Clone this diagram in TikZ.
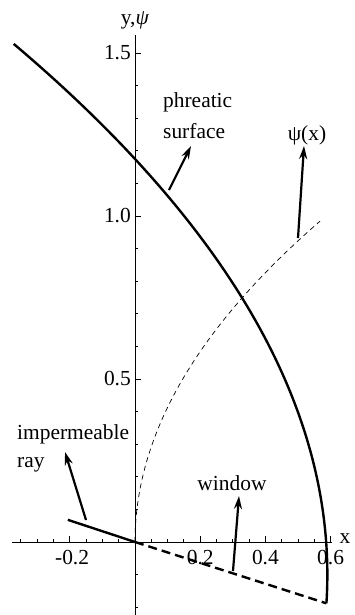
\documentclass[tikz,border=0pt]{standalone}
\usepackage{fontspec}
\setmainfont{Liberation Serif}
\usetikzlibrary{arrows.meta}
\begin{document}
\begin{tikzpicture}[x=326bp,y=326bp,
  lbl/.style={font=\fontsize{21.5}{24}\selectfont, inner sep=0pt},
  axisline/.style={line width=0.9bp},
  curvethick/.style={line width=2.4bp},
  arr/.style={line width=2.2bp, -{Stealth[length=13bp,width=8bp]}},
  tk/.style={line width=0.8bp}]
\useasboundingbox ({-135/326},{-73/326}) rectangle ({220/326},{542/326});
% axes
\coordinate (O) at (0,0);
\coordinate (xl) at ({-123/326},0);
\coordinate (xr) at ({197/326},0);
\coordinate (yb) at (0,{-73/326});
\coordinate (yt) at (0,{507/326});
\draw[axisline] (xl) -- (xr);
\draw[axisline] (yb) -- (yt);
% x ticks
\foreach \v in {-0.35,-0.3,-0.25,-0.15,-0.1,-0.05,0.05,0.1,0.15,0.25,0.3,0.35,0.45,0.5,0.55}
  \draw[tk] (\v,0) -- ++(0,3bp);
\foreach \v in {-0.2,0.2,0.4,0.6}
  \draw[tk] (\v,0) -- ++(0,6bp);
% y ticks
\foreach \v in {-0.2,-0.1,0.1,0.2,0.3,0.4,0.6,0.7,0.8,0.9,1.1,1.2,1.3,1.4}
  \draw[tk] (0,\v) -- ++(3bp,0);
\foreach \v in {0.5,1.0,1.5}
  \draw[tk] (0,\v) -- ++(6bp,0);
% tick labels
\node[lbl, anchor=east] (t15) at ([xshift=-4bp]0,1.5) {1.5};
\node[lbl, anchor=east] (t10) at ([xshift=-4bp]0,1.0) {1.0};
\node[lbl, anchor=east] (t05) at ([xshift=-4bp]0,0.5) {0.5};
\node[lbl] (tm2) at ({-0.193},{-16/326}) {-0.2};
\node[lbl] (t2) at (0.2,{-16/326}) {0.2};
\node[lbl] (t4) at (0.4,{-16/326}) {0.4};
\node[lbl] (t6) at (0.6,{-16/326}) {0.6};
\node[lbl] (xlab) at ({210/326},{3/326}) {x};
\node[lbl] (ylab) at (0,{522/326}) {y,\textit{ψ}};
% phreatic surface
\draw[curvethick, domain=-0.188:1.529, samples=120, variable=\t]
  plot ({0.59-0.363*(\t+0.1)^2},{\t});
% psi(x)
\draw[line width=0.7bp, dash pattern=on 5bp off 4bp, domain=0:0.985, samples=120, variable=\t]
  plot ({(\t/1.306)^2},{\t});
% impermeable ray and window
\coordinate (R) at (-0.206,0.068);
\coordinate (W) at (0.587,-0.188);
\draw[curvethick] (R) -- (O);
\draw[curvethick, dash pattern=on 9bp off 5bp] (O) -- (W);
% labels
\node[lbl, anchor=west] (ph1) at ({(163-135)/326},{(542-102)/326}) {phreatic};
\node[lbl, anchor=west] (ph2) at ({(163-135)/326},{(542-131)/326}) {surface};
\node[lbl] (psl) at ({(307-135)/326},{(542-135)/326}) {ψ(x)};
\node[lbl, anchor=west] (im1) at ({(17-135)/326},{(542-434)/326}) {impermeable};
\node[lbl, anchor=west] (im2) at ({(17-135)/326},{(542-465)/326}) {ray};
\node[lbl] (win) at ({(232-135)/326},{(542-483)/326}) {window};
% arrows
\coordinate (a1) at ({(169-135)/326},{(542-190)/326});
\coordinate (a1h) at ({(191-135)/326},{(542-146)/326});
\coordinate (a2) at ({(298-135)/326},{(542-238)/326});
\coordinate (a2h) at ({(304-135)/326},{(542-146)/326});
\coordinate (a3) at ({(86-135)/326},{(542-520)/326});
\coordinate (a3h) at ({(65-135)/326},{(542-452)/326});
\coordinate (a4) at ({(233-135)/326},{(542-571)/326});
\coordinate (a4h) at ({(239-135)/326},{(542-496)/326});
\draw[arr] (a1) -- (a1h);
\draw[arr] (a2) -- (a2h);
\draw[arr] (a3) -- (a3h);
\draw[arr] (a4) -- (a4h);
\end{tikzpicture}
\end{document}
